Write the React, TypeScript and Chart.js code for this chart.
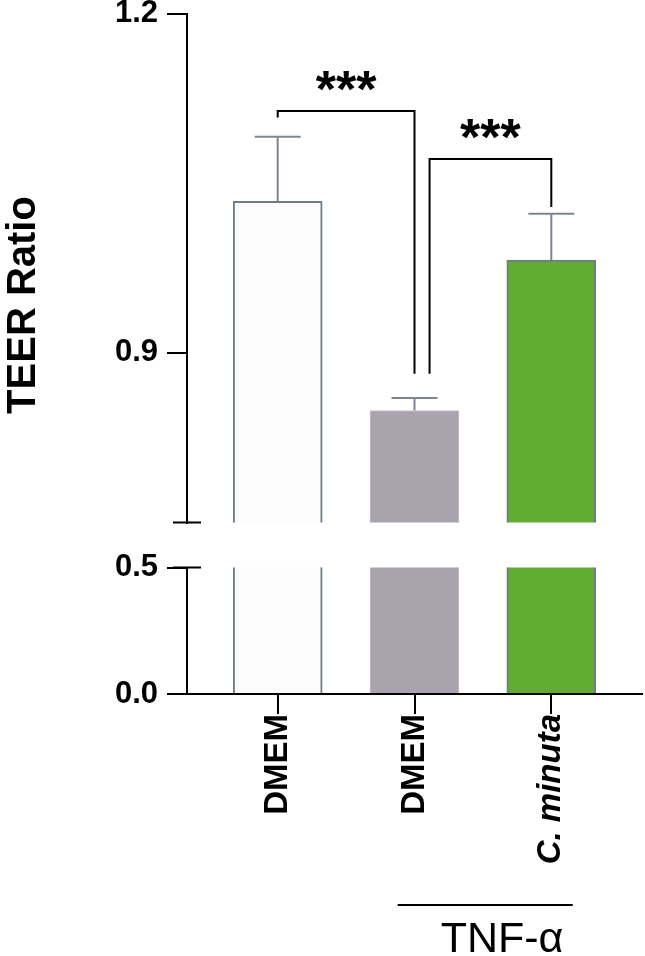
import React, { useEffect, useRef } from 'react';
import { Chart, registerables } from 'chart.js';

Chart.register(...registerables);

// ---- data ----
const categories = ['DMEM', 'DMEM', 'C. minuta'];
const categoryItalic = [false, false, true];
const means = [1.034, 0.849, 0.982];
const errorTops = [1.091, 0.86, 1.023];
const barFills = ['#fcfcfc', '#a8a3ad', '#63ac34'];
const barBorders = ['#6e7b88', '#c6c2ca', '#6e7b88'];
const barBorderWidths = [2, 1, 2];

const upperTicks = [0.9, 1.2];
const lowerTicks = [0.0, 0.5];
const upperRange = [0.75, 1.2];
const lowerRange = [0, 0.5];

// significance brackets (x in category index, y in TEER units)
const bracketStart = [0, 1.11];
const bracketEnd = [1, 2];
const bracketLevel = [1.1137, 1.0713];
const bracketStartFoot = [1.108, 0.8815];
const bracketEndFoot = [0.8815, 1.029];
const bracketLabels = ['***', '***'];

// treatment group
const groupLabel = 'TNF-α';
const groupStart = 0.877;
const groupEnd = 2.157;
const groupLabelAt = 1.64;

const yTitle = 'TEER Ratio';

// ---- layout ----
const FONT = '"Liberation Sans", Arial, Helvetica, sans-serif';
const X_MIN = -0.663;
const X_MAX = 2.663;
const TICK_SIZE = 31;
const UPPER_TOP = -11;
const UPPER_H = 558;
const LOWER_TOP = 543;
const LOWER_H = 413;
const AXIS_W = 187;

function line(ctx: CanvasRenderingContext2D, x1: number, y1: number, x2: number, y2: number) {
  ctx.beginPath();
  ctx.moveTo(x1, y1);
  ctx.lineTo(x2, y2);
  ctx.stroke();
}

const tickFont = { family: FONT, size: TICK_SIZE, weight: 'bold' as const, lineHeight: 1 };

function yScale(range: number[], ticks: number[]) {
  return {
    type: 'linear' as const,
    min: range[0],
    max: range[1],
    afterBuildTicks: (s: any) => {
      s.ticks = ticks.map((v) => ({ value: v }));
    },
    afterFit: (s: any) => {
      s.width = AXIS_W;
    },
    ticks: {
      color: '#000',
      font: tickFont,
      padding: 9,
      callback: (v: any) => Number(v).toFixed(1),
    },
    grid: {
      display: true,
      drawOnChartArea: false,
      drawTicks: true,
      tickLength: 20,
      color: '#000',
      lineWidth: 2,
    },
    border: { display: true, color: '#000', width: 2 },
  };
}

function barData() {
  return {
    datasets: [
      {
        data: means.map((v, i) => ({ x: i, y: v })),
        backgroundColor: barFills,
        borderColor: barBorders,
        borderWidth: barBorderWidths,
        borderSkipped: 'start' as const,
        barThickness: 89,
        clip: 0,
      },
    ],
  };
}

const upperPlugin = {
  id: 'upperDecor',
  afterDraw(chart: any) {
    const { ctx, chartArea } = chart;
    const x = chart.scales.x;
    const y = chart.scales.y;
    ctx.save();
    ctx.strokeStyle = '#000';
    ctx.lineWidth = 2;
    const yb = y.getPixelForValue(y.min);
    line(ctx, chartArea.left - 14, yb, chartArea.left + 14, yb);

    // error bars
    ctx.strokeStyle = '#7b8690';
    ctx.lineWidth = 2;
    means.forEach((m, i) => {
      const px = x.getPixelForValue(i);
      const yTop = y.getPixelForValue(errorTops[i]);
      const yBar = y.getPixelForValue(m);
      line(ctx, px, yBar, px, yTop);
      line(ctx, px - 23, yTop, px + 23, yTop);
    });

    // brackets
    ctx.strokeStyle = '#000';
    ctx.lineWidth = 2;
    ctx.fillStyle = '#000';
    ctx.font = `bold 52px ${FONT}`;
    ctx.textAlign = 'center';
    ctx.textBaseline = 'alphabetic';
    bracketLabels.forEach((lab, i) => {
      const xa = x.getPixelForValue(bracketStart[i]);
      const xb = x.getPixelForValue(bracketEnd[i]);
      const yl = y.getPixelForValue(bracketLevel[i]);
      const ya = y.getPixelForValue(bracketStartFoot[i]);
      const yf = y.getPixelForValue(bracketEndFoot[i]);
      ctx.beginPath();
      ctx.moveTo(xa, ya);
      ctx.lineTo(xa, yl);
      ctx.lineTo(xb, yl);
      ctx.lineTo(xb, yf);
      ctx.stroke();
      ctx.fillText(lab, (xa + xb) / 2, yl - 4.5);
    });

    // y title
    ctx.translate(35, 305 - UPPER_TOP);
    ctx.rotate(-Math.PI / 2);
    ctx.font = `bold 40px ${FONT}`;
    ctx.textAlign = 'center';
    ctx.fillText(yTitle, 0, 0);
    ctx.restore();
  },
};

const lowerPlugin = {
  id: 'lowerDecor',
  afterDraw(chart: any) {
    const { ctx, chartArea } = chart;
    const x = chart.scales.x;
    const y = chart.scales.y;
    ctx.save();
    ctx.strokeStyle = '#000';
    ctx.lineWidth = 2;
    const yt = y.getPixelForValue(y.max);
    line(ctx, chartArea.left - 14, yt, chartArea.left + 14, yt);

    // group line + label
    const g1 = x.getPixelForValue(groupStart);
    const g2 = x.getPixelForValue(groupEnd);
    const gy = 905 - LOWER_TOP;
    line(ctx, g1, gy, g2, gy);
    ctx.fillStyle = '#000';
    ctx.font = `43px ${FONT}`;
    ctx.textAlign = 'center';
    ctx.textBaseline = 'alphabetic';
    ctx.fillText(groupLabel, x.getPixelForValue(groupLabelAt), 952 - LOWER_TOP);
    ctx.restore();
  },
};

export default function App() {
  const upperRef = useRef<HTMLCanvasElement>(null);
  const lowerRef = useRef<HTMLCanvasElement>(null);

  useEffect(() => {
    const common = {
      responsive: false,
      animation: false as const,
      plugins: { legend: { display: false }, tooltip: { enabled: false } },
    };
    const upper = new Chart(upperRef.current!, {
      type: 'bar',
      data: barData(),
      options: {
        ...common,
        layout: { padding: { left: 0, right: 3, top: 0, bottom: 0 } },
        scales: {
          x: {
            type: 'linear',
            min: X_MIN,
            max: X_MAX,
            offset: false,
            grid: { offset: false },
            display: false,
          },
          y: yScale(upperRange, upperTicks),
        },
      } as any,
      plugins: [upperPlugin],
    });

    const lower = new Chart(lowerRef.current!, {
      type: 'bar',
      data: barData(),
      options: {
        ...common,
        layout: { padding: { left: 0, right: 3, top: 0, bottom: 0 } },
        scales: {
          x: {
            type: 'linear',
            min: X_MIN,
            max: X_MAX,
            offset: false,
            afterBuildTicks: (s: any) => {
              s.ticks = categories.map((_, i) => ({ value: i }));
            },
            afterFit: (s: any) => {
              s.height = 262;
            },
            ticks: {
              color: '#000',
              padding: 0,
              minRotation: 90,
              maxRotation: 90,
              autoSkip: false,
              font: (c: any) => ({
                family: FONT,
                size: 33,
                weight: 'bold',
                style: categoryItalic[c.index] ? 'italic' : 'normal',
                lineHeight: 1.1,
              }),
              callback: (_v: any, i: number) => categories[i],
            },
            grid: {
              display: true,
              offset: false,
              drawOnChartArea: false,
              drawTicks: true,
              tickLength: 20,
              color: '#000',
              lineWidth: 2,
            },
            border: { display: true, color: '#000', width: 2 },
          },
          y: yScale(lowerRange, lowerTicks),
        },
      } as any,
      plugins: [lowerPlugin],
    });

    return () => {
      upper.destroy();
      lower.destroy();
    };
  }, []);

  return (
    <div
      style={{
        position: 'fixed',
        left: 0,
        top: 0,
        width: 645,
        height: 956,
        background: '#fff',
        overflow: 'hidden',
      }}
    >
      <canvas
        ref={upperRef}
        width={645}
        height={UPPER_H}
        style={{ position: 'absolute', left: 0, top: UPPER_TOP, display: 'block' }}
      />
      <canvas
        ref={lowerRef}
        width={645}
        height={LOWER_H}
        style={{ position: 'absolute', left: 0, top: LOWER_TOP, display: 'block' }}
      />
    </div>
  );
}
